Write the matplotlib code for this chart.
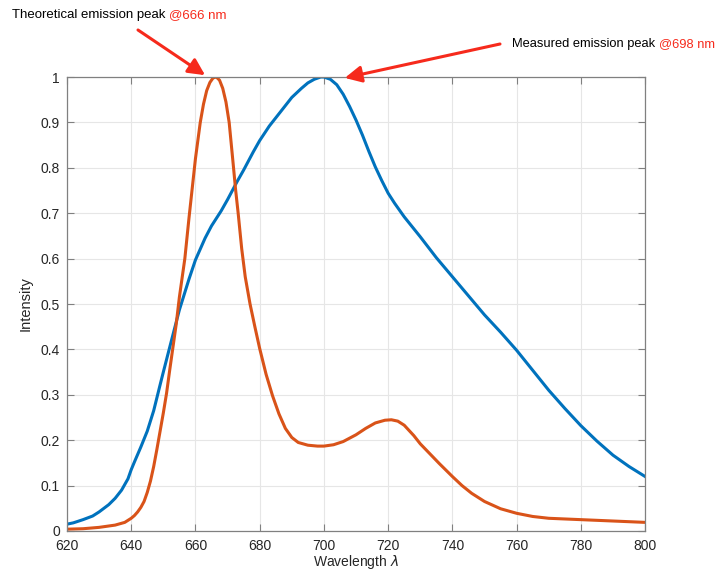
import matplotlib
matplotlib.use("Agg")
import matplotlib.pyplot as plt

plt.rcParams['font.family'] = ['Liberation Sans', 'DejaVu Sans']

# Measured emission (blue)
meas_wl = [620, 622, 625, 628, 630, 633, 635, 637, 639, 640, 641, 643, 645, 647, 649, 650, 652, 655,
           658, 660, 663, 665, 668, 670, 673, 675, 678, 680, 683, 685, 688, 690, 693,
           695, 697, 699, 700, 702, 704, 706, 708, 710, 712, 714, 716, 718, 720, 722, 725, 730,
           735, 740, 745, 750, 755, 760, 765, 770, 775, 780, 785, 790, 795, 800]
meas_int = [0.015, 0.018, 0.025, 0.033, 0.042, 0.058, 0.072, 0.090, 0.115, 0.135, 0.152, 0.185, 0.220, 0.265, 0.322, 0.350, 0.405, 0.487,
            0.555, 0.597, 0.645, 0.672, 0.705, 0.730, 0.770, 0.795, 0.835, 0.860, 0.892, 0.910, 0.937, 0.955, 0.975,
            0.987, 0.995, 1.000, 1.000, 0.995, 0.983, 0.962, 0.935, 0.905, 0.872, 0.836, 0.802, 0.772, 0.744, 0.722, 0.692, 0.648,
            0.602, 0.560, 0.518, 0.476, 0.438, 0.398, 0.354, 0.310, 0.270, 0.232, 0.198, 0.167, 0.142, 0.120]

# Theoretical emission (orange)
theo_wl = [620, 625, 630, 635, 638, 640, 641, 642, 643, 644, 645, 646, 647, 648, 649, 650, 651, 652, 654, 655,
           656.7, 658, 659, 660, 661.5, 662.5, 663.5, 664.5, 665.5, 666.5, 667.5, 668.5, 669.5, 670.5, 671.7,
           672.5, 673.3, 674.4, 675.5, 677, 678.5, 680, 682, 684, 686, 688, 690, 692, 695, 698, 700, 703, 706, 710,
           713, 716, 719, 721, 723, 725, 728, 730, 733, 736, 740, 743, 746, 750, 755, 760, 765, 770,
           780, 790, 800]
theo_int = [0.004, 0.005, 0.008, 0.013, 0.019, 0.028, 0.034, 0.042, 0.052, 0.065, 0.085, 0.110, 0.142, 0.180, 0.220, 0.260, 0.303, 0.355, 0.455, 0.515,
            0.600, 0.690, 0.755, 0.820, 0.900, 0.940, 0.970, 0.988, 0.998, 1.000, 0.993, 0.975, 0.945, 0.900, 0.812,
            0.752, 0.700, 0.622, 0.560, 0.500, 0.450, 0.402, 0.345, 0.298, 0.258, 0.226, 0.206, 0.195, 0.189, 0.187, 0.187, 0.190, 0.197, 0.212,
            0.226, 0.238, 0.244, 0.245, 0.242, 0.233, 0.210, 0.192, 0.170, 0.148, 0.120, 0.100, 0.083, 0.065, 0.049, 0.039, 0.032, 0.028,
            0.025, 0.022, 0.019]

x_ticks = [620, 640, 660, 680, 700, 720, 740, 760, 780, 800]
y_ticks = [0, 0.1, 0.2, 0.3, 0.4, 0.5, 0.6, 0.7, 0.8, 0.9, 1]
y_labels = ['0', '0.1', '0.2', '0.3', '0.4', '0.5', '0.6', '0.7', '0.8', '0.9', '1']

fig = plt.figure(figsize=(7.2, 5.73), dpi=100)
ax = fig.add_axes([0.093, 0.0733, 0.803, 0.7923])

ax.plot(meas_wl, meas_int, color='#0072BD', lw=2.2)
ax.plot(theo_wl, theo_int, color='#D95319', lw=2.2)

ax.set_xlim(620, 800)
ax.set_ylim(0, 1)
ax.set_xticks(x_ticks)
ax.set_yticks(y_ticks)
ax.set_yticklabels(y_labels)
ax.grid(True, color='#e6e6e6', lw=0.8)
ax.set_axisbelow(True)
for s in ax.spines.values():
    s.set_color('#808080')
    s.set_linewidth(0.9)
ax.tick_params(direction='in', top=True, right=True, colors='#808080',
               labelcolor='#262626', labelsize=10, length=5, width=0.8)
ax.tick_params(axis='x', pad=6)
ax.tick_params(axis='y', pad=5)
ax.set_xlabel('Wavelength $\\lambda$', fontsize=10, color='#262626', labelpad=0)
ax.set_ylabel('Intensity', fontsize=10.5, color='#262626', labelpad=6)

red = '#f62a1c'
# Annotations
ax.annotate('', xy=(663.0, 1.004), xytext=(138/720, 1 - 30/573),
            textcoords='figure fraction', annotation_clip=False,
            arrowprops=dict(arrowstyle='-|>,head_length=1.0,head_width=0.5',
                            color=red, lw=2.2, shrinkA=0, shrinkB=0))
ax.annotate('', xy=(706.5, 0.998), xytext=(500/720, 1 - 44/573),
            textcoords='figure fraction', annotation_clip=False,
            arrowprops=dict(arrowstyle='-|>,head_length=1.0,head_width=0.5',
                            color=red, lw=2.2, shrinkA=0, shrinkB=0))

t1 = fig.text(12/720, 1 - 15/573, 'Theoretical emission peak ', fontsize=9.5,
              color='black', va='center', ha='left')
fig.canvas.draw()
bb = t1.get_window_extent()
fig.text(bb.x1 / fig.bbox.width, 1 - 15/573, '@666 nm', fontsize=9.5, color=red,
         va='center', ha='left')

t2 = fig.text(512/720, 1 - 44/573, 'Measured emission peak ', fontsize=9.3,
              color='black', va='center', ha='left')
fig.canvas.draw()
bb2 = t2.get_window_extent()
fig.text(bb2.x1 / fig.bbox.width, 1 - 44/573, '@698 nm', fontsize=9.3, color=red,
         va='center', ha='left')

fig.savefig('out.png', dpi=100)
